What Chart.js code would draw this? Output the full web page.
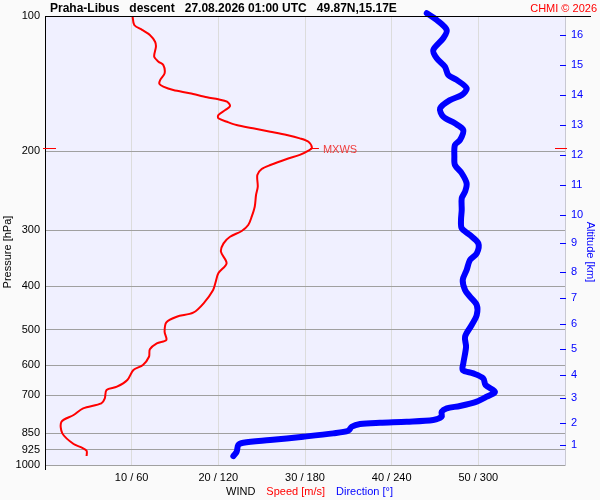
<!DOCTYPE html>
<html>
<head>
<meta charset="utf-8">
<script src="https://cdn.jsdelivr.net/npm/chart.js@4/dist/chart.umd.min.js"></script>
<style>
  body { margin: 0; background: #fafafa; }
  canvas { display: block; }
</style>
</head>
<body>
<canvas id="windChart" width="600" height="500"></canvas>
<script>
// Wind speed profile (pressure hPa / speed m/s)
const speedPressure = [100, 104.7, 107.4, 110.2, 114.1, 117.1, 123.2, 126.4, 128.6, 134.2, 138.8, 141.7, 143.7, 146.2, 148.6, 151.7, 153.3, 155.2, 158.6, 162, 166.2, 169, 172, 174.9, 177.9, 181, 184.1, 187.3, 190.6, 196.5, 199.5, 203.9, 208.2, 214.7, 219.2, 226, 240, 250.4, 266, 279.9, 292.1, 301.2, 310.2, 320.9, 334.9, 355.4, 374.1, 390.6, 407.5, 436.4, 458, 467.5, 481.2, 505, 526.9, 535.9, 552.6, 574, 598.9, 614.5, 646.7, 669.3, 680.7, 710.3, 728.8, 747.7, 773.9, 801, 850.2, 898.2, 913.5, 929.6, 955.1]
const speed = [10.1, 10.3, 11.2, 12.1, 12.7, 12.8, 12.6, 13.1, 13.65, 13.8, 13.3, 13.2, 13.65, 14.8, 16.7, 18.7, 20, 21, 21.35, 20.8, 20, 20, 21, 22.1, 24, 26, 27.9, 29.4, 30.4, 30.8, 30.4, 29.4, 27.9, 26, 25, 24.5, 24.55, 24.35, 24.2, 23.85, 23.45, 22.7, 21.35, 20.6, 20.3, 20.95, 20, 19.7, 19.4, 18.3, 17.1, 15.2, 14, 13.8, 14, 12.9, 12.1, 12, 11.3, 10.2, 9.5, 8.3, 7.1, 6.9, 6.5, 4.4, 3.3, 1.9, 2, 3.3, 4.2, 4.8, 4.8]

// Wind direction profile (pressure hPa / direction deg)
const dirPressure = [98.6, 102.1, 107.4, 112.1, 119.1, 124.2, 129.7, 135.3, 138.8, 144.9, 150, 153.9, 160.6, 167.6, 173.4, 179.5, 188.9, 193.8, 205.8, 214.7, 224, 235.9, 246.2, 254.7, 270.4, 284.6, 297.1, 307.5, 320.9, 337.7, 349.5, 368, 387.2, 407.5, 421.8, 440.2, 463.4, 487.8, 517.9, 545.3, 593.7, 614.5, 625, 641.1, 663.5, 686.7, 704.6, 722.8, 739, 747.7, 760.9, 780.7, 794, 801, 805.1, 810.5, 821.8, 838.8, 850.2, 865.1, 879.9, 892.2, 902.8, 934.4, 955.1]
const direction = [264.3, 271.2, 278.1, 275.7, 268.8, 271.2, 276.9, 279.2, 285, 291.9, 288.5, 280.4, 273.5, 275.7, 283.8, 289.6, 287.3, 283.8, 283.4, 283.8, 288.5, 291.9, 290.8, 288.5, 288.5, 288, 288.5, 294.2, 300, 298.9, 294.2, 291.9, 289.2, 290.8, 294.2, 298.9, 298.9, 295.4, 290.8, 291.5, 289.6, 289.2, 296.5, 303.4, 305, 311.5, 305.8, 298.9, 287.3, 278.1, 274.6, 274.6, 268.8, 250.4, 231.9, 218.1, 212.3, 210, 199.6, 178.8, 155.8, 137.3, 133.8, 132.7, 130.4]

// Axis ticks
const pressureTicks = [100, 200, 300, 400, 500, 600, 700, 850, 925, 1000]
const speedTicks = [10, 20, 30, 40, 50]
const directionTicks = [60, 120, 180, 240, 300]
const altitudeKm = [1, 2, 3, 4, 5, 6, 7, 8, 9, 10, 11, 12, 13, 14, 15, 16]
const altitudePressure = [902.8, 806.3, 709.2, 630.5, 551.8, 485.3, 424.7, 371.7, 320.4, 277.5, 237.9, 203.9, 174.9, 150, 128.6, 110.2]

const FONT = "'Liberation Sans', Arial, sans-serif"

// Backgrounds, frame lines, labels and the MXWS marker
const decorations = {
  id: "decorations",
  beforeDraw(chart) {
    const { ctx, chartArea: a } = chart
    ctx.save()
    ctx.fillStyle = "#fafafa"
    ctx.fillRect(0, 0, chart.width, chart.height)
    ctx.fillStyle = "#f0f0ff"
    ctx.fillRect(a.left, a.top, a.right - a.left, a.bottom - a.top)
    ctx.restore()
  },
  afterDraw(chart) {
    const { ctx, chartArea: a, scales } = chart
    ctx.save()

    // frame
    ctx.strokeStyle = "#000000"
    ctx.lineWidth = 1
    ctx.beginPath()
    ctx.moveTo(a.left, a.top + 0.5)
    ctx.lineTo(591, a.top + 0.5)
    ctx.moveTo(a.left + 0.5, a.top)
    ctx.lineTo(a.left + 0.5, a.bottom + 5)
    ctx.stroke()

    // altitude ticks
    ctx.strokeStyle = "#0000ff"
    ctx.beginPath()
    altitudePressure.forEach((p) => {
      const y = Math.round(scales.yAlt.getPixelForValue(p)) + 0.5
      ctx.moveTo(a.right - 5, y)
      ctx.lineTo(a.right + 1, y)
    })
    ctx.stroke()

    // max wind marker
    let iMax = 0
    speed.forEach((s, i) => { if (s > speed[iMax]) iMax = i })
    const yMax = Math.round(scales.y.getPixelForValue(speedPressure[iMax])) + 0.5
    const xMax = scales.x.getPixelForValue(speed[iMax])
    ctx.strokeStyle = "#ff0000"
    ctx.beginPath()
    ctx.moveTo(xMax - 2, yMax)
    ctx.lineTo(xMax + 7, yMax)
    ctx.moveTo(a.left - 2, yMax)
    ctx.lineTo(a.left + 11, yMax)
    ctx.moveTo(a.right - 10, yMax)
    ctx.lineTo(a.right + 2, yMax)
    ctx.stroke()
    ctx.fillStyle = "#f03c3c"
    ctx.font = "11px " + FONT
    ctx.textBaseline = "middle"
    ctx.textAlign = "left"
    ctx.fillText("MXWS", xMax + 11, yMax + 1)

    // title
    ctx.fillStyle = "#000000"
    ctx.font = "bold 12px " + FONT
    ctx.textBaseline = "alphabetic"
    ctx.fillText("Praha-Libus   descent   27.08.2026 01:00 UTC   49.87N,15.17E", 50, 12)
    ctx.fillStyle = "#ff0000"
    ctx.font = "11px " + FONT
    ctx.textAlign = "right"
    ctx.fillText("CHMI \u00a9 2026", 597, 12)

    // bottom legend
    ctx.textAlign = "left"
    ctx.textBaseline = "middle"
    let x = 226
    const parts = [["WIND", "#000000"], ["Speed [m/s]", "#ff0000"], ["Direction [\u00b0]", "#0000ff"]]
    parts.forEach(([t, c]) => {
      ctx.fillStyle = c
      ctx.fillText(t, x, 492)
      x += ctx.measureText(t).width + 11
    })

    // axis titles
    ctx.textAlign = "center"
    ctx.fillStyle = "#000000"
    ctx.translate(8, 252)
    ctx.rotate(-Math.PI / 2)
    ctx.fillText("Pressure [hPa]", 0, 0)
    ctx.setTransform(1, 0, 0, 1, 0, 0)
    ctx.fillStyle = "#0000ff"
    ctx.translate(590, 252)
    ctx.rotate(Math.PI / 2)
    ctx.fillText("Altitude [km]", 0, 0)
    ctx.restore()
  },
}

const ctx = document.getElementById("windChart").getContext("2d")

new Chart(ctx, {
  type: "scatter",
  data: {
    datasets: [
      {
        label: "Speed",
        data: speedPressure.map((p, i) => ({ x: speed[i], y: p })),
        showLine: true,
        borderColor: "#ff0000",
        borderWidth: 2,
        pointRadius: 0,
        tension: 0.3,
      },
      {
        label: "Direction",
        data: dirPressure.map((p, i) => ({ x: direction[i] / 6, y: p })),
        showLine: true,
        borderColor: "#0000ff",
        borderWidth: 6,
        borderCapStyle: "round",
        borderJoinStyle: "round",
        pointRadius: 0,
        tension: 0.3,
        clip: false,
      },
    ],
  },
  options: {
    responsive: false,
    animation: false,
    layout: { padding: { top: 16, left: 0, right: 0, bottom: 0 } },
    plugins: { legend: { display: false }, tooltip: { enabled: false } },
    scales: {
      x: {
        type: "linear",
        min: 0,
        max: 60,
        afterBuildTicks: (s) => { s.ticks = speedTicks.map((v) => ({ value: v })) },
        afterFit: (s) => { s.height = 35 },
        ticks: {
          padding: 6,
          color: "#000000",
          font: { family: FONT, size: 11 },
          callback: (v, i) => speedTicks[i] + " / " + directionTicks[i],
        },
        grid: { color: "#dcdcdc", drawTicks: false },
        border: { display: false },
      },
      y: {
        type: "logarithmic",
        position: "left",
        reverse: true,
        min: 100,
        max: 1000,
        afterBuildTicks: (s) => { s.ticks = pressureTicks.map((v) => ({ value: v })) },
        afterFit: (s) => { s.width = 45 },
        ticks: {
          autoSkip: false,
          padding: 5,
          color: "#000000",
          font: { family: FONT, size: 11 },
          callback: (v, i) => String(pressureTicks[i]),
        },
        grid: {
          drawTicks: false,
          color: (c) => (c.tick && c.tick.value === 100 ? "rgba(0,0,0,0)" : "#a0a0a0"),
        },
        border: { display: false },
      },
      yAlt: {
        type: "logarithmic",
        position: "right",
        reverse: true,
        min: 100,
        max: 1000,
        afterBuildTicks: (s) => { s.ticks = altitudePressure.map((v) => ({ value: v })) },
        afterFit: (s) => { s.width = 35 },
        ticks: {
          autoSkip: false,
          padding: 6,
          color: "#0000ff",
          font: { family: FONT, size: 11 },
          callback: (v, i) => String(altitudeKm[i]),
        },
        grid: { display: false, drawTicks: false },
        border: { display: true, color: "#c8c8d2" },
      },
    },
  },
  plugins: [decorations],
})
</script>
</body>
</html>
